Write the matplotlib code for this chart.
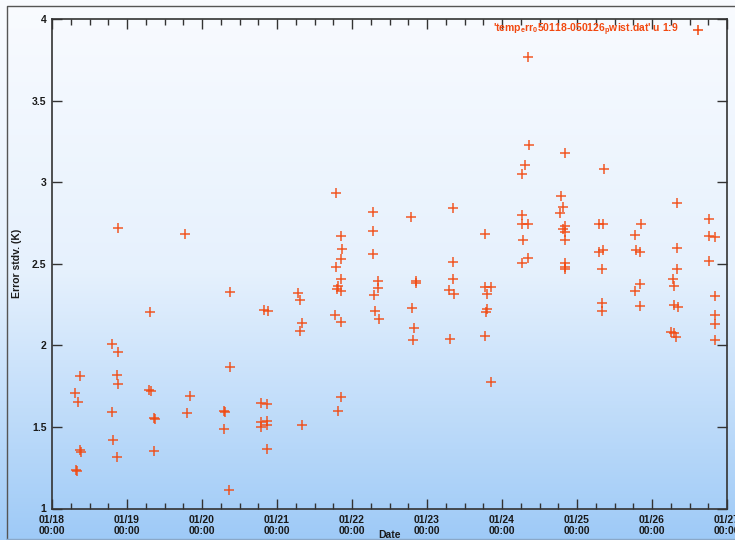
import matplotlib
matplotlib.use("Agg")
import matplotlib.pyplot as plt
import matplotlib.dates as mdates
from matplotlib.colors import LinearSegmentedColormap
import numpy as np
import pandas as pd

plt.rcParams['font.family'] = ['Liberation Sans', 'DejaVu Sans']
plt.rcParams['mathtext.fontset'] = 'custom'
plt.rcParams['mathtext.rm'] = 'Liberation Sans:bold'
plt.rcParams['mathtext.default'] = 'regular'

# hours after 2005-01-18 00:00, and error stdv (K)
hours = [7.4, 9.0, 8.2, 9.1, 9.3, 7.8, 8.0,
         19.1, 21.2, 20.9, 21.0, 19.1, 19.6, 20.9, 21.1,
         31.2, 31.0, 31.7, 32.7, 32.9, 32.7,
         42.6, 44.2, 43.1,
         54.9, 55.2, 54.9, 56.5, 57.0, 57.0,
         67.8, 69.2, 66.9, 68.8, 66.8, 68.8, 68.8, 66.8, 68.8,
         78.8, 79.5, 80.0, 79.2, 80.0,
         90.8, 92.5, 92.8, 92.6, 90.9, 92.6, 91.6, 91.3, 92.5, 90.6, 92.6, 92.6, 91.5,
         102.8, 102.7, 102.7, 104.2, 104.3, 103.0, 103.2, 104.5,
         114.8, 116.6, 116.4, 115.3, 115.8, 115.6,
         128.3, 128.3, 128.3, 126.9, 128.6, 127.4,
         138.7, 138.6, 140.4, 139.1, 139.3, 138.9, 138.6, 140.4,
         152.4, 152.7, 151.4, 150.3, 150.3, 150.3, 152.4, 150.6, 150.4, 152.4,
         164.3, 162.9, 163.4, 162.5, 164.3, 163.4, 164.3, 164.3, 164.3, 164.3, 164.3,
         176.5, 174.9, 176.2, 174.9, 176.3, 176.1, 176.1, 176.1,
         188.5, 186.5, 186.9, 188.2, 188.3, 186.5, 188.1,
         199.9, 199.9, 200.0, 198.7, 199.0, 198.9, 200.2, 198.0, 198.9, 199.7,
         210.3, 210.3, 212.2, 210.3, 212.1, 212.2, 212.1, 212.1]
err_stdv = [1.71, 1.81, 1.655, 1.36, 1.345, 1.235, 1.228,
            2.01, 1.96, 1.82, 1.763, 1.594, 1.421, 1.314, 2.72,
            2.202, 1.729, 1.718, 1.553, 1.548, 1.351,
            2.684, 1.692, 1.586,
            1.60, 1.592, 1.486, 1.114, 2.329, 1.870,
            2.219, 2.208, 1.647, 1.641, 1.528, 1.539, 1.514, 1.502, 1.365,
            2.318, 2.278, 2.137, 2.088, 1.514,
            2.931, 2.668, 2.590, 2.527, 2.478, 2.406, 2.366, 2.345, 2.335, 2.186, 2.143, 1.682, 1.598,
            2.816, 2.702, 2.561, 2.394, 2.351, 2.306, 2.212, 2.159,
            2.784, 2.396, 2.380, 2.231, 2.108, 2.031,
            2.841, 2.512, 2.406, 2.339, 2.315, 2.039,
            2.682, 2.357, 2.359, 2.313, 2.225, 2.204, 2.055, 1.776,
            3.770, 3.229, 3.108, 3.051, 2.798, 2.741, 2.741, 2.645, 2.505, 2.535,
            3.180, 2.917, 2.847, 2.811, 2.731, 2.711, 2.696, 2.645, 2.506, 2.482, 2.468,
            3.082, 2.741, 2.741, 2.570, 2.586, 2.470, 2.257, 2.208,
            2.741, 2.678, 2.584, 2.570, 2.376, 2.331, 2.241,
            2.874, 2.596, 2.468, 2.406, 2.361, 2.249, 2.237, 2.084, 2.074, 2.049,
            2.774, 2.670, 2.664, 2.515, 2.300, 2.184, 2.129, 2.031]

start = pd.Timestamp("2005-01-18 00:00")
end = pd.Timestamp("2005-01-27 00:00")
y_ticks = [1, 1.5, 2, 2.5, 3, 3.5, 4]
y_labels = ["1", "1.5", "2", "2.5", "3", "3.5", "4"]
legend_label = "'temp$_{e}$rr$_{0}$50118-050126$_{p}$wist.dat' u 1:9"

times = start + pd.to_timedelta(hours, unit="h")
red = "#f2480f"
ink = "#1a1a1a"

fig = plt.figure(figsize=(7.35, 5.4), dpi=100)

# gradient backdrop
bg = fig.add_axes([0, 0, 1, 1], zorder=-10)
cmap = LinearSegmentedColormap.from_list("bg", ["#f9fbff", "#e6f1fd", "#9ecaf7"])
bg.imshow(np.linspace(0, 1, 256).reshape(-1, 1), aspect="auto", cmap=cmap,
          extent=[0, 735, 540, 0])
bg.plot([7, 7, 735], [540, 6, 6], color="#555555", lw=1.0)
bg.plot([7, 735], [538.5, 538.5], color="#8aa8c8", lw=1.0)
bg.set_xlim(0, 735)
bg.set_ylim(540, 0)
bg.axis("off")

ax = fig.add_axes([52 / 735, (540 - 508.5) / 540, 675 / 735, 489.5 / 540])
ax.patch.set_alpha(0)
ax.plot(times, err_stdv, linestyle="none", marker="+", markersize=6.8,
        markeredgewidth=1.1, color=red, alpha=0.9)

ax.set_xlim(start, end)
ax.set_ylim(1, 4)
ax.set_yticks(y_ticks)
ax.set_yticklabels(y_labels)
ax.xaxis.set_major_locator(mdates.DayLocator())
ax.xaxis.set_major_formatter(mdates.DateFormatter("%m/%d\n%H:%M"))
ax.xaxis.set_minor_locator(mdates.HourLocator(byhour=[6, 12, 18]))

for s in ax.spines.values():
    s.set_color("#333333")
    s.set_linewidth(1.2)
ax.tick_params(which="both", direction="in", top=True, right=True, color="#333333",
               labelsize=7.5, labelcolor=ink, pad=4)
ax.tick_params(which="major", length=7, width=1.0)
ax.tick_params(which="minor", length=4, width=1.0)
ax.tick_params(axis="x", pad=5)
for lab in ax.get_xticklabels() + ax.get_yticklabels():
    lab.set_fontweight("bold")
    lab.set_linespacing(1.05)

fig.text(17 / 735, 1 - 263 / 540, "Error stdv. (K)", rotation=90, ha="center",
         va="center", fontsize=7.5, fontweight="bold", color=ink)
fig.text(389 / 735, 1 - 535 / 540, "Date", ha="center", va="center",
         fontsize=7.5, fontweight="bold", color=ink)

# key
fig.text(679 / 735, 1 - 30 / 540, legend_label, ha="right", va="center",
         fontsize=7.5, fontweight="bold", color=red)
ax.plot([0.957], [0.9775], transform=ax.transAxes, linestyle="none", marker="+",
        markersize=6.8, markeredgewidth=1.1, color=red, clip_on=False)

fig.savefig("out.png", dpi=100)
